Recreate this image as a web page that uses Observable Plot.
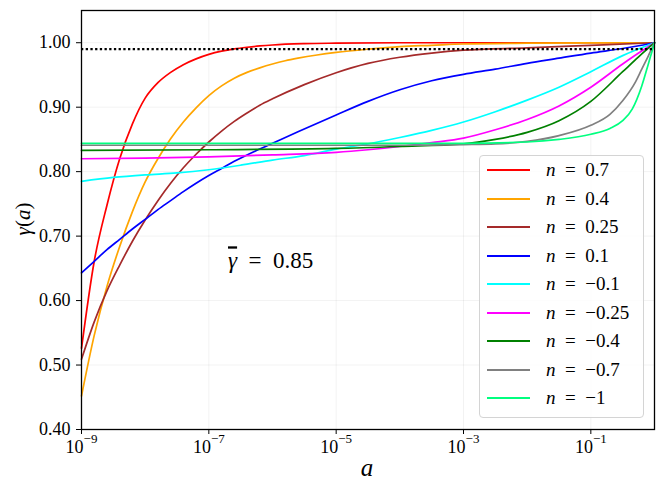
<!DOCTYPE html>
<html><head><meta charset="utf-8">
<script src="https://cdn.jsdelivr.net/npm/d3@7"></script>
<script src="https://cdn.jsdelivr.net/npm/@observablehq/plot@0.6"></script>
<style>
body{margin:0;background:#fff;}
#wrap{position:relative;width:664px;height:495px;font-family:"Liberation Serif",serif;}
#legend{position:absolute;left:479px;top:155px;width:165px;height:263px;box-sizing:border-box;border:1px solid #d4d4d4;border-radius:4px;background:rgba(255,255,255,0.8);}
.row{position:absolute;left:0;height:28px;display:flex;align-items:center;font-size:19px;color:#000;}
.sw{margin-left:7px;width:43px;height:2px;}
.lab{margin-left:16px;white-space:pre;}
.lab i{font-style:italic;}
</style></head><body><div id="wrap"></div>
<script>
// ---- data (x as log10(a), y as gamma(a)) ----
const red_logA   = [-9,-8.8,-8.6,-8.4,-8.2,-8.0,-7.8,-7.6,-7.4,-7.2,-7.0,-6.8,-6.6,-6.4,-6.2,-6.0,-5.5,-5.0,-4.0,-2.0,0];
const red_gamma  = [0.526,0.661,0.748,0.820,0.874,0.914,0.938,0.954,0.966,0.975,0.982,0.987,0.9905,0.993,0.995,0.9965,0.9985,0.9993,1.0,1.0,1.0];

const orange_logA  = [-9,-8.8,-8.6,-8.4,-8.2,-8.0,-7.8,-7.6,-7.4,-7.2,-7.0,-6.8,-6.6,-6.4,-6.2,-6.0,-5.8,-5.6,-5.3,-5.0,-4.5,-4.0,-3.5,-3.0,-2.0,-1.0,0];
const orange_gamma = [0.452,0.546,0.622,0.684,0.738,0.784,0.820,0.851,0.877,0.899,0.918,0.933,0.945,0.954,0.961,0.967,0.972,0.976,0.981,0.985,0.990,0.994,0.996,0.998,0.9993,0.9998,1.0];

const brown_logA  = [-9,-8.8,-8.6,-8.4,-8.2,-8.0,-7.8,-7.6,-7.4,-7.2,-7.0,-6.8,-6.6,-6.4,-6.2,-6.0,-5.5,-5.0,-4.5,-4.0,-3.5,-3.0,-2.0,-1.0,0];
const brown_gamma = [0.509,0.567,0.615,0.655,0.692,0.725,0.755,0.782,0.806,0.827,0.846,0.863,0.878,0.891,0.903,0.913,0.935,0.9535,0.968,0.9775,0.984,0.9885,0.992,0.996,1.0];

const blue_logA  = [-9,-8.8,-8.6,-8.4,-8.2,-8.0,-7.8,-7.6,-7.4,-7.2,-7.0,-6.8,-6.6,-6.4,-6.2,-6.0,-5.6,-5.0,-4.5,-4.0,-3.5,-3.0,-2.5,-2.0,-1.5,-1.0,-0.5,0];
const blue_gamma = [0.643,0.661,0.679,0.695,0.711,0.726,0.741,0.755,0.769,0.782,0.794,0.805,0.816,0.826,0.835,0.844,0.862,0.888,0.909,0.927,0.941,0.951,0.959,0.968,0.976,0.984,0.991,1.0];

const cyan_logA  = [-9,-8.5,-8.0,-7.5,-7.0,-6.5,-6.0,-5.5,-5.0,-4.5,-4.0,-3.5,-3.0,-2.5,-2.0,-1.5,-1.0,-0.5,0];
const cyan_gamma = [0.785,0.791,0.795,0.798,0.803,0.810,0.818,0.825,0.835,0.843,0.853,0.864,0.877,0.893,0.911,0.931,0.955,0.980,1.0];

const magenta_logA  = [-9,-8,-7,-6,-5,-4.5,-4,-3.5,-3,-2.5,-2,-1.5,-1,-0.5,-0.25,0];
const magenta_gamma = [0.820,0.821,0.823,0.826,0.830,0.834,0.839,0.845,0.852,0.865,0.881,0.902,0.931,0.967,0.984,1.0];

const green_logA  = [-9,-7,-5,-4,-3,-2.5,-2,-1.5,-1,-0.5,-0.25,0];
const green_gamma = [0.833,0.834,0.836,0.839,0.843,0.850,0.861,0.879,0.909,0.955,0.978,1.0];

const gray_logA  = [-9,-4,-3,-2.5,-2,-1.5,-1,-0.7,-0.5,-0.3,-0.2,-0.1,0];
const gray_gamma = [0.841,0.841,0.842,0.843,0.847,0.856,0.872,0.889,0.910,0.939,0.959,0.979,1.0];

const spring_logA  = [-9,-4,-3,-2,-1.5,-1,-0.7,-0.5,-0.35,-0.2,-0.1,-0.05,0];
const spring_gamma = [0.844,0.844,0.844,0.846,0.850,0.858,0.867,0.879,0.897,0.933,0.966,0.983,1.0];

const nLabels = ["0.7","0.4","0.25","0.1","\u22120.1","\u22120.25","\u22120.4","\u22120.7","\u22121"];
const colors  = ["red","orange","brown","blue","cyan","magenta","green","gray","springgreen"];
const xTicks  = [1e-9,1e-7,1e-5,1e-3,1e-1];
const yTicks  = [0.4,0.5,0.6,0.7,0.8,0.9,1.0];
const threshold = 0.99;
const annotA = 2e-7, annotG = 0.65, annotText = "\u03B3 = 0.85";

const FF = "'Liberation Serif', serif";

const logAs  = [red_logA,orange_logA,brown_logA,blue_logA,cyan_logA,magenta_logA,green_logA,gray_logA,spring_logA];
const gammas = [red_gamma,orange_gamma,brown_gamma,blue_gamma,cyan_gamma,magenta_gamma,green_gamma,gray_gamma,spring_gamma];

const lineMarks = logAs.map((la, k) =>
  Plot.line(la.map((e, i) => ({a: Math.pow(10, e), g: gammas[k][i]})),
    {x: "a", y: "g", stroke: colors[k], strokeWidth: 1.7, curve: "monotone-x"}));

const svg = Plot.plot({
  width: 664, height: 495,
  marginLeft: 81, marginRight: 10, marginTop: 10, marginBottom: 66,
  style: {fontFamily: FF, fontSize: "18px", color: "black", background: "white"},
  x: {type: "log", domain: [1e-9, 1], label: null},
  y: {domain: [0.40, 1.05], label: null},
  marks: [
    Plot.gridX(xTicks, {stroke: "#000", strokeOpacity: 0.05}),
    Plot.gridY(yTicks, {stroke: "#000", strokeOpacity: 0.05}),
    ...lineMarks,
    Plot.ruleY([threshold], {stroke: "black", strokeWidth: 2.3, strokeDasharray: "2.3,2.4"}),
    Plot.text([{a: annotA, g: annotG, t: annotText}], {x: "a", y: "g", text: "t", textAnchor: "start", lineAnchor: "bottom", fontSize: 23, fill: "black"}),
    Plot.axisX(xTicks, {tickSize: 5, tickPadding: 6, tickFormat: d => "10^" + Math.round(Math.log10(d)), fontSize: 18}),
    Plot.axisY(yTicks, {tickSize: 5, tickPadding: 6, tickFormat: d3.format(".2f"), fontSize: 18}),
    Plot.frame({stroke: "black", strokeWidth: 1.3})
  ]
});

const s = d3.select(svg);
s.selectAll("text").each(function() {
  const m = this.textContent.match(/^10\^(-?\d+)$/);
  const t = d3.select(this);
  if (m) {
    t.text("");
    t.append("tspan").text("10");
    t.append("tspan").attr("font-size", 13).attr("dy", -10)
      .text(m[1].replace("-", "\u2212"));
  } else if (this.textContent === annotText) {
    t.text("");
    t.append("tspan").attr("font-style", "italic").style("text-decoration", "overline").text("\u03B3");
    t.append("tspan").text("\u2002=\u20020.85");
  }
});
const yl = s.append("text").attr("transform", "translate(30,219) rotate(-90)")
  .attr("text-anchor", "middle").attr("font-size", 21).attr("fill", "black");
yl.append("tspan").attr("font-style", "italic").text("\u03B3");
yl.append("tspan").text("(");
yl.append("tspan").attr("font-style", "italic").text("a");
yl.append("tspan").text(")");
s.append("text").attr("x", 367).attr("y", 476).attr("text-anchor", "middle")
  .attr("font-size", 25).attr("font-style", "italic").attr("fill", "black").text("a");

const wrap = document.getElementById("wrap");
wrap.appendChild(svg);

const lg = document.createElement("div");
lg.id = "legend";
nLabels.forEach((lab, i) => {
  const row = document.createElement("div");
  row.className = "row";
  row.style.top = (15 + i * 28.5 - 14 - 1) + "px";
  row.innerHTML = `<div class="sw" style="background:${colors[i]}"></div><div class="lab"><i>n</i>\u2002=\u2002${lab}</div>`;
  lg.appendChild(row);
});
wrap.appendChild(lg);
</script></body></html>
